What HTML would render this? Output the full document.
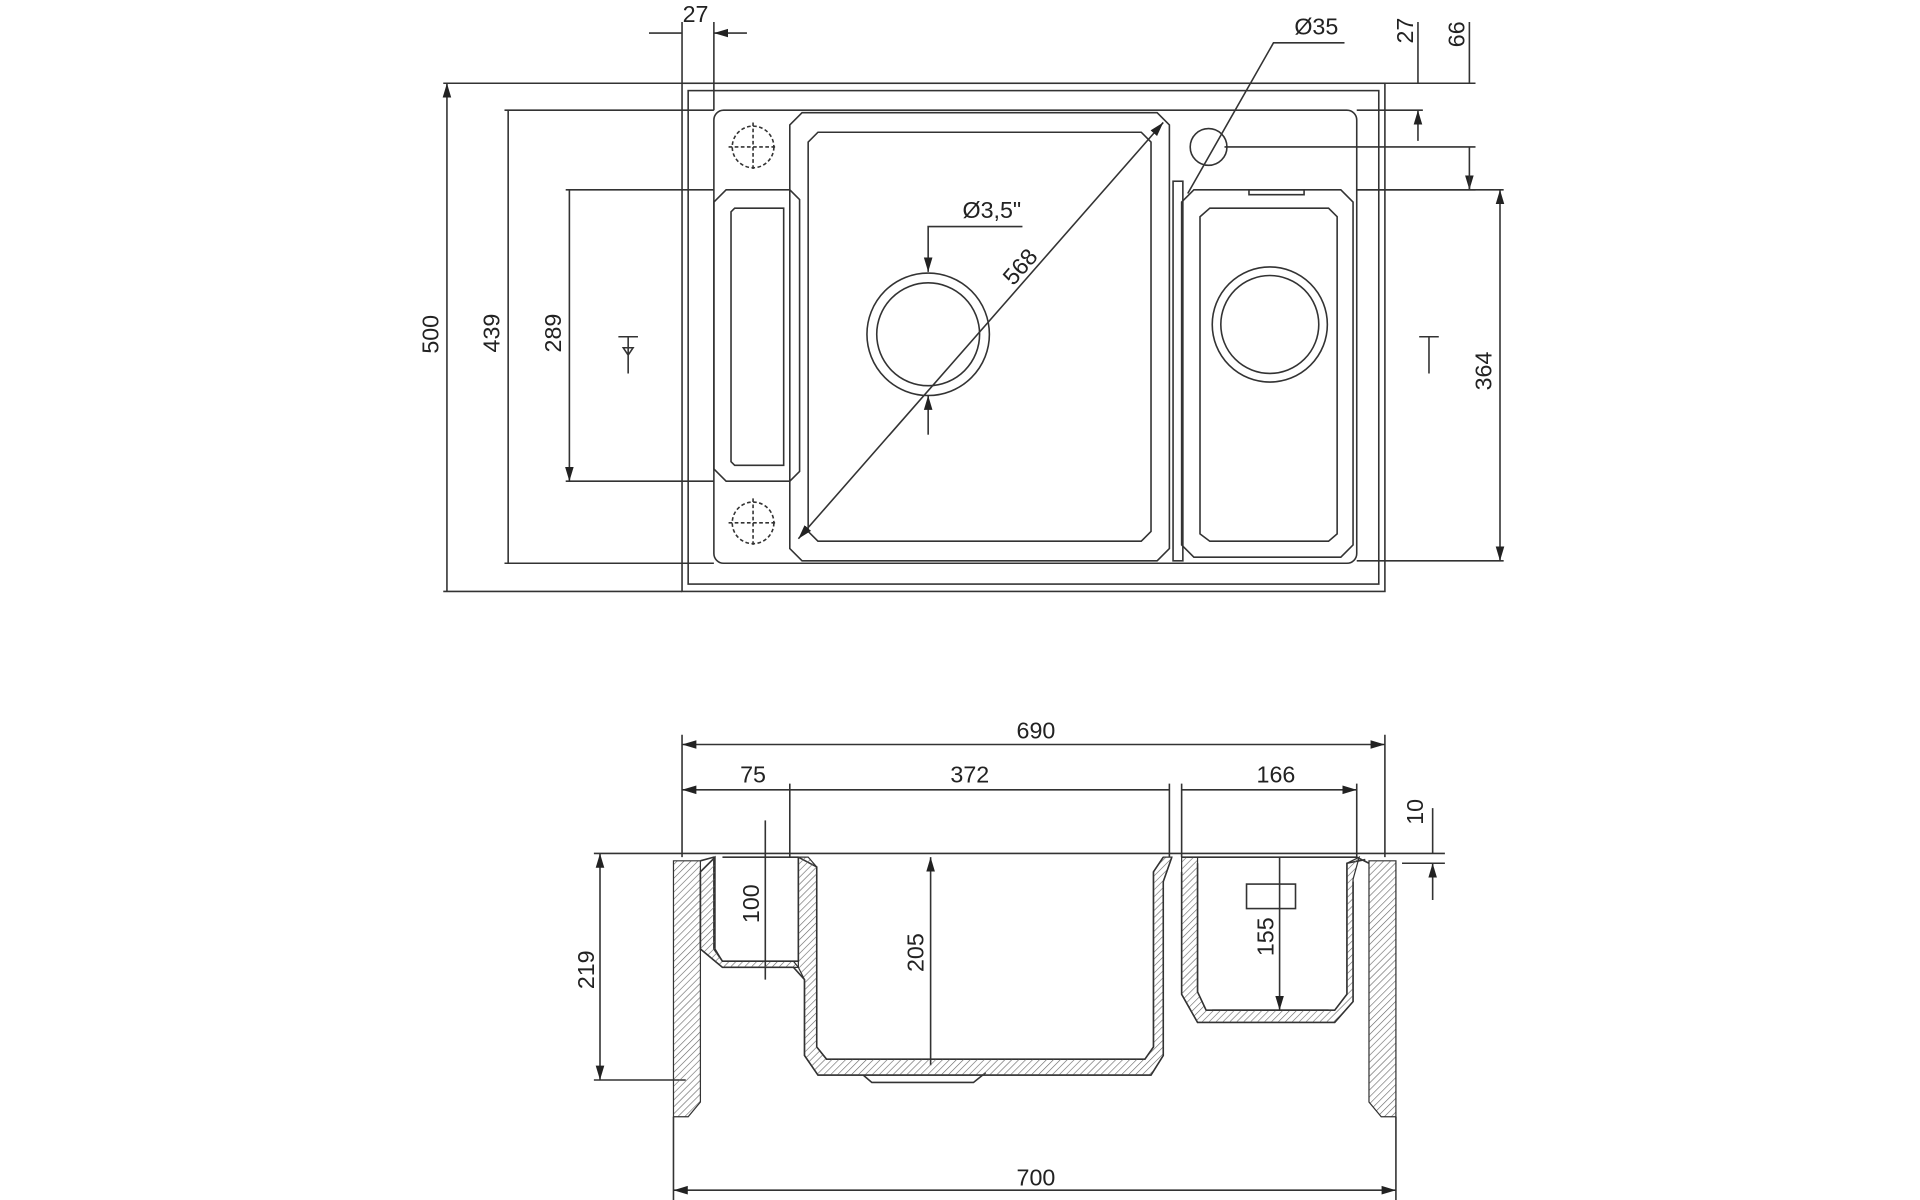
<!DOCTYPE html>
<html><head><meta charset="utf-8"><style>
html,body{margin:0;padding:0;background:#fff;}
svg{display:block}
text{font-family:"Liberation Sans Narrow","Liberation Sans",sans-serif;font-size:19px;fill:#222}
</style></head><body>
<svg width="1920" height="1200" viewBox="0 0 1568 980" xmlns="http://www.w3.org/2000/svg">
<defs>
<marker id="a" viewBox="0 0 10 10" refX="10" refY="5" markerWidth="9" markerHeight="9" orient="auto-start-reverse"><path d="M0,2 L10,5 L0,8 z" fill="#222"/></marker>
<pattern id="h" width="4" height="4" patternUnits="userSpaceOnUse" patternTransform="rotate(45)"><line x1="0" y1="0" x2="0" y2="4" stroke="#666" stroke-width="1"/></pattern>
</defs>
<g fill="none" stroke="#333" stroke-width="1.3">
<!-- top view -->
<rect x="557" y="68" width="574" height="415"/>
<rect x="562" y="74" width="564" height="403"/>
<rect x="583" y="90" width="525" height="370" rx="8"/>
<path d="M655,92 H945 L955,102 V448 L945,458 H655 L645,448 V102 Z"/>
<path d="M668,108 H932 L940,116 V434 L932,442 H668 L660,434 V116 Z"/>
<circle cx="758" cy="273" r="50"/><circle cx="758" cy="273" r="42"/>
<path d="M593,155 H645 L653,163 V385 L645,393 H593 L583,383 V165 Z"/>
<path d="M600,170 H640 V380 H600 L597,377 V173 Z"/>
<g stroke-dasharray="3,2"><circle cx="615" cy="120" r="17"/><circle cx="615" cy="427" r="17"/>
<path d="M595,120H635M615,100V140M595,427H635M615,407V447"/></g>
<path d="M975,155 H1095 L1105,165 V445 L1095,455 H975 L965,445 V165 Z"/>
<path d="M988,170 H1085 L1092,177 V436 L1085,442 H988 L980,436 V177 Z"/>
<rect x="958" y="148" width="8" height="310"/>
<path d="M1020,155 h45 v4 h-45z"/>
<circle cx="1037" cy="265" r="47"/><circle cx="1037" cy="265" r="40"/>
<circle cx="987" cy="120" r="15"/>
<!-- dims top -->
<path d="M557,68H362M557,483H362M583,90H412M583,460H412M583,155H462M583,393H462"/>
<path d="M365,68V483M415,90V460M465,155V393" marker-start="url(#a)" marker-end="url(#a)"/>
<path d="M1108,155H1228M1108,458H1228"/>
<path d="M1225,155V458" marker-start="url(#a)" marker-end="url(#a)"/>
<path d="M557,68V18M583,90V18"/>
<path d="M530,27H557M610,27H583" marker-end="url(#a)"/>
<path d="M1131,68H1205M1108,90H1162M1000,120H1205M1108,155H1205"/>
<path d="M1158,18V68M1158,115V90" marker-end="url(#a)"/>
<path d="M1200,18V68M1200,150V155" marker-end="url(#a)"/>
<path d="M1200,155V120"/>
<path d="M1098,35H1040L970,158"/>
<path d="M652,440L950,100" marker-start="url(#a)" marker-end="url(#a)"/>
<path d="M835,185H758V222" marker-end="url(#a)"/>
<path d="M758,355V323" marker-end="url(#a)"/>
<path d="M505,275h16M513,275v30M513,290 l-4,-6 h8z"/>
<path d="M1159,275h16M1167,275v30"/>
<!-- bottom view -->
<path d="M557,700V600M1131,700V600M645,700V640M955,700V640M965,700V640M1108,700V640"/>
<path d="M557,608H1131" marker-start="url(#a)" marker-end="url(#a)"/>
<path d="M557,645H645M645,645H955M965,645H1108" marker-start="url(#a)" marker-end="url(#a)"/>
<path d="M485,697H1180M485,882H560M1145,705H1180M1145,697"/>
<path d="M490,697V882" marker-start="url(#a)" marker-end="url(#a)"/>
<path d="M550,912V980M1140,912V980"/>
<path d="M550,972H1140" marker-start="url(#a)" marker-end="url(#a)"/>
<path d="M1170,660V697M1170,735V705" marker-end="url(#a)"/>
<!-- profile -->
<path d="M572,703 L583,700 V775 L590,785 H652 V700 M584,700 L572,712 V775 L590,790 H648 L657,800 V862 L668,878 H940 L950,862 V720 L957,700"/>
<path d="M590,700 H652 L667,708 V855 L675,865 H935 L942,855 V712 L950,700"/>
<path d="M705,878 L712,884 H795 L805,876"/>
<path d="M965,700 H1108 L1118,705 M978,705 V810 L985,825 H1090 L1100,812 V705 L1115,702 M965,712 V812 L978,835 H1090 L1105,818 V720"/>
<path d="M990,825 H1085"/>
<rect x="1018" y="722" width="40" height="20"/>
<path d="M760,700V870M625,700V800M1045,700V825" marker-start="url(#a)" marker-end="url(#a)"/>
<path d="M625,670V700" />
</g>
<g stroke="#333" stroke-width="1" fill="url(#h)">
<path d="M550,703 H572 V900 L562,912 H550 Z"/>
<path d="M1118,703 H1140 V912 H1128 L1118,900 Z"/>
<path d="M572,712 L584,700 V775 L590,785 H648 L652,790 H590 L572,775 Z"/>
<path d="M652,700 H660 L667,708 V855 L675,865 H935 L942,855 V712 L950,700 H957 L950,720 V862 L940,878 H668 L657,862 V800 L652,790 Z"/>
<path d="M965,700 H978 V810 L985,825 H1090 L1100,812 V705 L1110,700 L1105,718 V818 L1090,835 H978 L965,812 Z"/>
</g>
<g>
<text x="568" y="18" text-anchor="middle">27</text>
<text x="1075" y="28" text-anchor="middle">Ø35</text>
<text x="810" y="178" text-anchor="middle">Ø3,5"</text>
<text transform="translate(838,222) rotate(-49)" text-anchor="middle">568</text>
<text transform="translate(358,273) rotate(-90)" text-anchor="middle">500</text>
<text transform="translate(408,272) rotate(-90)" text-anchor="middle">439</text>
<text transform="translate(458,272) rotate(-90)" text-anchor="middle">289</text>
<text transform="translate(1218,303) rotate(-90)" text-anchor="middle">364</text>
<text transform="translate(1154,25) rotate(-90)" text-anchor="middle">27</text>
<text transform="translate(1196,28) rotate(-90)" text-anchor="middle">66</text>
<text x="846" y="603" text-anchor="middle">690</text>
<text x="615" y="639" text-anchor="middle">75</text>
<text x="792" y="639" text-anchor="middle">372</text>
<text x="1042" y="639" text-anchor="middle">166</text>
<text transform="translate(1162,663) rotate(-90)" text-anchor="middle">10</text>
<text transform="translate(485,792) rotate(-90)" text-anchor="middle">219</text>
<text transform="translate(620,738) rotate(-90)" text-anchor="middle">100</text>
<text transform="translate(754,778) rotate(-90)" text-anchor="middle">205</text>
<text transform="translate(1040,765) rotate(-90)" text-anchor="middle">155</text>
<text x="846" y="968" text-anchor="middle">700</text>
</g>
</svg>
</body></html>
